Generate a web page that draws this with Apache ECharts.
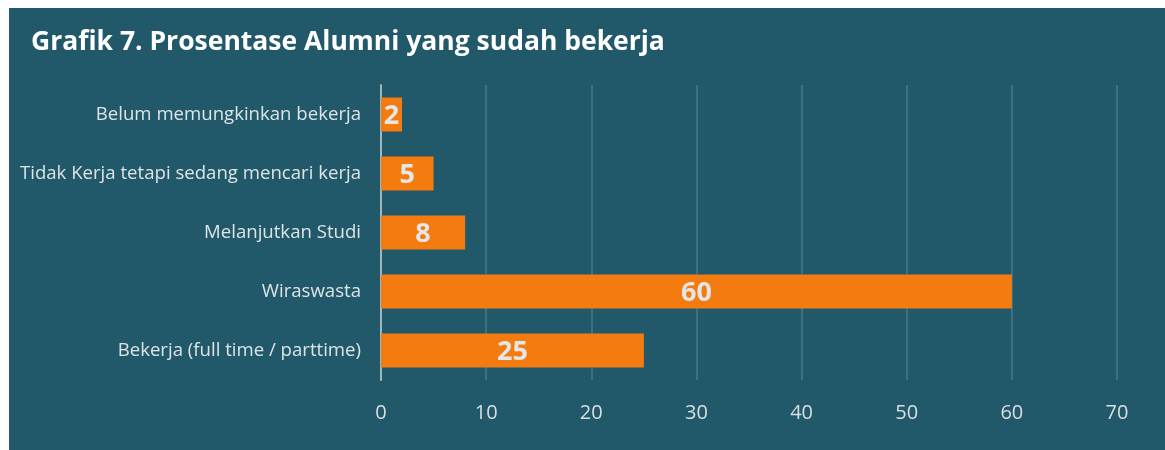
<!DOCTYPE html>
<html>
<head>
<meta charset="utf-8">
<script src="https://cdn.jsdelivr.net/npm/echarts@6/dist/echarts.min.js"></script>
<style>
  html, body { margin: 0; padding: 0; background: #ffffff; }
  #chart { width: 1165px; height: 450px; }
</style>
</head>
<body>
<div id="chart"></div>
<script>
// categories listed bottom to top (ECharts category y axis runs upward)
const categories = [
  'Bekerja (full time / parttime)',
  'Wiraswasta',
  'Melanjutkan Studi',
  'Tidak Kerja tetapi sedang mencari kerja',
  'Belum memungkinkan bekerja'
];
const values = [25, 60, 8, 5, 2];
const titleText = 'Grafik 7. Prosentase Alumni yang sudah bekerja';

const chart = echarts.init(document.getElementById('chart'));

const option = {
  animation: false,
  backgroundColor: '#ffffff',
  graphic: [
    {
      type: 'rect',
      z: -10,
      shape: { x: 9, y: 8, width: 1156, height: 442 },
      style: { fill: '#22596a' }
    }
  ],
  title: {
    text: titleText,
    left: 26,
    top: 24,
    textStyle: {
      color: '#ffffff',
      fontFamily: 'Open Sans',
      fontWeight: 'bold',
      fontSize: 26.5
    }
  },
  grid: {
    left: 381,
    right: 48,
    top: 85,
    bottom: 70
  },
  xAxis: {
    type: 'value',
    min: 0,
    max: 70,
    interval: 10,
    axisLine: { show: false },
    axisTick: { show: false },
    splitLine: { lineStyle: { color: '#3e7080', width: 2 } },
    axisLabel: {
      color: '#d9dfe1',
      fontFamily: 'Open Sans',
      fontSize: 20,
      margin: 23
    }
  },
  yAxis: {
    type: 'category',
    data: categories,
    axisLine: { show: true, lineStyle: { color: '#9fb7be', width: 2 } },
    axisTick: { show: false },
    axisLabel: {
      color: '#dde4e6',
      fontFamily: 'Open Sans',
      fontSize: 18.6,
      margin: 20
    }
  },
  series: [
    {
      type: 'bar',
      data: values,
      barWidth: 34,
      itemStyle: { color: '#f47b10' },
      label: {
        show: true,
        position: 'inside',
        color: '#e6e6e6',
        fontFamily: 'Open Sans',
        fontWeight: 'bold',
        fontSize: 27,
        offset: [0, 2]
      }
    }
  ]
};

chart.setOption(option);
</script>
</body>
</html>
